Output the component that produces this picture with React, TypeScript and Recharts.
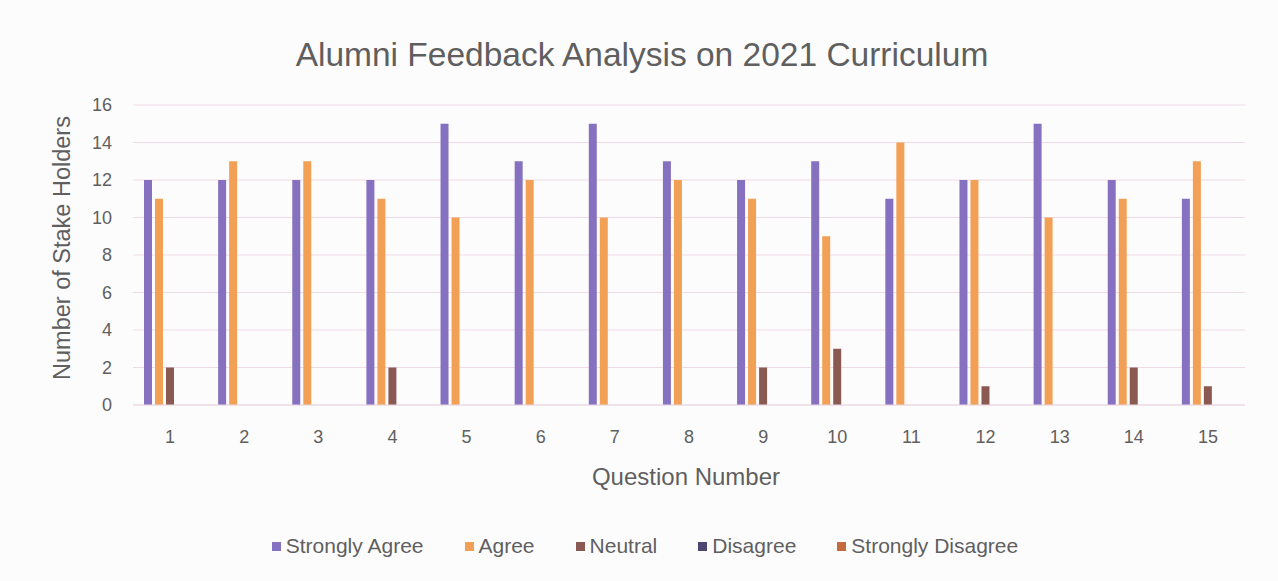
import React from 'react';
import { BarChart, Bar, XAxis, YAxis, CartesianGrid } from 'recharts';

const questions = ['1', '2', '3', '4', '5', '6', '7', '8', '9', '10', '11', '12', '13', '14', '15'];
const stronglyAgree = [12, 12, 12, 12, 15, 13, 15, 13, 12, 13, 11, 12, 15, 12, 11];
const agree = [11, 13, 13, 11, 10, 12, 10, 12, 11, 9, 14, 12, 10, 11, 13];
const neutral = [2, 0, 0, 2, 0, 0, 0, 0, 2, 3, 0, 1, 0, 2, 1];
const disagree = [0, 0, 0, 0, 0, 0, 0, 0, 0, 0, 0, 0, 0, 0, 0];
const stronglyDisagree = [0, 0, 0, 0, 0, 0, 0, 0, 0, 0, 0, 0, 0, 0, 0];
const yTicks = [0, 2, 4, 6, 8, 10, 12, 14, 16];

const series = [
    { key: 'Strongly Agree', values: stronglyAgree, color: '#8571c0' },
    { key: 'Agree', values: agree, color: '#f2a055' },
    { key: 'Neutral', values: neutral, color: '#8a5a52' },
    { key: 'Disagree', values: disagree, color: '#4c4670' },
    { key: 'Strongly Disagree', values: stronglyDisagree, color: '#c56a3c' },
];

const chartData = questions.map((q, i) => {
    const row: Record<string, string | number> = { name: q };
    series.forEach(s => { row[s.key] = s.values[i]; });
    return row;
});

const font = '"Liberation Sans", Arial, sans-serif';
const textColor = '#5f5f5f';

const App: React.FC = () => {
    return (
        <div style={{ position: 'absolute', left: 0, top: 0, width: 1278, height: 581, background: '#fdfcfd', fontFamily: font }}>
            <div style={{ position: 'absolute', left: 0, top: 36, width: 1278, textAlign: 'center', fontSize: 33.5, color: textColor, paddingLeft: 6, boxSizing: 'border-box' }}>
                Alumni Feedback Analysis on 2021 Curriculum
            </div>
            <BarChart
                width={1278}
                height={581}
                data={chartData}
                margin={{ top: 105, right: 33, left: 0, bottom: 0 }}
                barCategoryGap="15%"
                barGap={3}
            >
                <CartesianGrid vertical={false} stroke="#efdbe8" />
                <XAxis
                    dataKey="name"
                    height={176}
                    axisLine={{ stroke: '#e8d8e2' }}
                    tickLine={false}
                    tickMargin={19}
                    tick={{ fill: textColor, fontSize: 18, fontFamily: font }}
                />
                <YAxis
                    width={133}
                    domain={[0, 16]}
                    ticks={yTicks}
                    axisLine={false}
                    tickLine={false}
                    tickMargin={15}
                    tick={{ fill: textColor, fontSize: 18, fontFamily: font }}
                />
                {series.map(s => (
                    <Bar key={s.key} dataKey={s.key} fill={s.color} barSize={8} isAnimationActive={false} />
                ))}
            </BarChart>
            <div style={{ position: 'absolute', left: 62, top: 248, transform: 'translate(-50%, -50%) rotate(-90deg)', whiteSpace: 'nowrap', fontSize: 23.5, color: textColor }}>
                Number of Stake Holders
            </div>
            <div style={{ position: 'absolute', left: 0, top: 463, width: 1278, paddingLeft: 94, boxSizing: 'border-box', textAlign: 'center', fontSize: 24, color: textColor }}>
                Question Number
            </div>
            <div style={{ position: 'absolute', left: 0, top: 534, width: 1278, paddingLeft: 12, boxSizing: 'border-box', display: 'flex', justifyContent: 'center', gap: 41, fontSize: 21, color: textColor }}>
                {series.map(s => (
                    <div key={s.key} style={{ display: 'flex', alignItems: 'center' }}>
                        <span style={{ display: 'inline-block', width: 9, height: 9, background: s.color, marginRight: 5 }} />
                        {s.key}
                    </div>
                ))}
            </div>
        </div>
    );
};

export default App;
